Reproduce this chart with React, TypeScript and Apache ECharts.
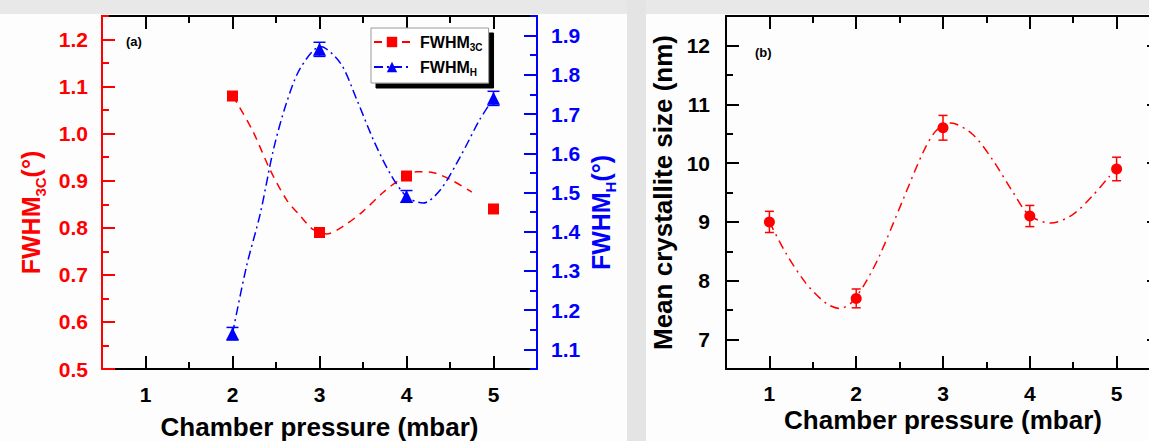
import { useEffect, useRef } from 'react';
import * as echarts from 'echarts';

// ---------- data ----------
const pressureA = [2, 3, 4, 5];
const fwhm3C = [1.08, 0.79, 0.91, 0.84];
const fwhm3CErr = [0.008, 0.006, 0.008, 0.006];
const fwhmH = [1.14, 1.865, 1.49, 1.74];
const fwhmHErr = [0.016, 0.018, 0.015, 0.018];

// fitted guide curves
const fit3CX = [2.0, 2.05, 2.24, 2.43, 2.62, 2.78, 2.93, 3.08, 3.27, 3.5, 3.73, 3.93, 4.12, 4.31, 4.54, 4.75];
const fit3CY = [1.08, 1.066, 1.003, 0.924, 0.86, 0.825, 0.796, 0.787, 0.803, 0.835, 0.875, 0.903, 0.919, 0.917, 0.899, 0.876];
const fitHX = [2.0, 2.16, 2.32, 2.47, 2.62, 2.78, 3.01, 3.24, 3.43, 3.62, 3.81, 4.0, 4.19, 4.39, 4.62, 4.84, 5.0];
const fitHY = [1.14, 1.311, 1.447, 1.609, 1.728, 1.817, 1.872, 1.83, 1.736, 1.634, 1.549, 1.49, 1.473, 1.507, 1.592, 1.685, 1.74];

const pressureB = [1, 2, 3, 4, 5];
const crystalSize = [9.0, 7.7, 10.6, 9.1, 9.9];
const crystalErr = [0.18, 0.16, 0.21, 0.18, 0.2];
const fitBX = [1.0, 1.19, 1.42, 1.65, 1.81, 1.94, 2.1, 2.27, 2.54, 2.77, 2.92, 3.09, 3.34, 3.57, 3.8, 3.99, 4.24, 4.49, 4.72, 4.92];
const fitBY = [9.0, 8.47, 7.96, 7.62, 7.53, 7.62, 7.95, 8.43, 9.38, 10.18, 10.55, 10.68, 10.49, 10.06, 9.52, 9.12, 8.98, 9.12, 9.44, 9.78];

const legendNames = ['FWHM3C', 'FWHMH'];
const panelLabels = ['(a)', '(b)'];
const xTitle = 'Chamber pressure (mbar)';
const yTitleB = 'Mean crystallite size (nm)';

const RED = '#ff0000';
const BLUE = '#0000ff';
const BLACK = '#000000';
const FONT = '"Liberation Sans", Arial, Helvetica, sans-serif';

function xAxisSet(gridIndex: number, labelMargin: number, nameGap: number) {
  const tickStyle = { color: BLACK, width: 2 };
  const base: any = {
    type: 'value', gridIndex, min: 0.5, max: 5.5,
    splitLine: { show: false }, z: 0,
  };
  return [
    {
      ...base, position: 'bottom', splitNumber: 5,
      axisLine: { show: true, onZero: false, lineStyle: { color: BLACK, width: 2 } },
      axisTick: { show: true, inside: true, length: 13, lineStyle: tickStyle },
      axisLabel: {
        show: true, margin: labelMargin, showMinLabel: false, showMaxLabel: false,
        color: BLACK, fontSize: 21, fontWeight: 'bold', fontFamily: FONT,
      },
      name: xTitle, nameLocation: 'middle', nameGap, nameMoveOverlap: false,
      nameTextStyle: { color: BLACK, fontSize: 26, lineHeight: 26, fontWeight: 'bold', fontFamily: FONT },
    },
    {
      ...base, position: 'bottom', interval: 0.5,
      axisLine: { show: false, onZero: false },
      axisTick: { show: true, inside: true, length: 7, lineStyle: tickStyle },
      axisLabel: { show: false },
    },
    {
      ...base, position: 'top', splitNumber: 5,
      axisLine: { show: true, onZero: false, lineStyle: { color: BLACK, width: 2 } },
      axisTick: { show: true, inside: true, length: 13, lineStyle: tickStyle },
      axisLabel: { show: false },
    },
    {
      ...base, position: 'top', interval: 0.5,
      axisLine: { show: false, onZero: false },
      axisTick: { show: true, inside: true, length: 7, lineStyle: tickStyle },
      axisLabel: { show: false },
    },
  ];
}

function yPair(
  gridIndex: number, position: string, min: number, max: number, color: string,
  major: any, minorInterval: number, label: any, nameOpts: any,
) {
  const tickStyle = { color, width: 2 };
  const base: any = { type: 'value', gridIndex, position, min, max, splitLine: { show: false }, z: 1 };
  return [
    {
      ...base, ...major,
      axisLine: { show: true, onZero: false, lineStyle: { color, width: 2 } },
      axisTick: { show: true, inside: true, length: 13, lineStyle: tickStyle },
      axisLabel: label
        ? {
            show: true, showMinLabel: label.showMin, showMaxLabel: false, margin: label.margin,
            color, fontSize: 21, fontWeight: 'bold', fontFamily: FONT, formatter: label.formatter,
          }
        : { show: false },
      ...nameOpts,
    },
    {
      ...base, interval: minorInterval,
      axisLine: { show: false, onZero: false },
      axisTick: { show: true, inside: true, length: 7, lineStyle: tickStyle },
      axisLabel: { show: false },
    },
  ];
}

function errorBars(color: string, hw: number) {
  return (params: any, api: any) => {
    const x = api.value(0);
    const top = api.coord([x, api.value(2)]);
    const bot = api.coord([x, api.value(1)]);
    const style = { stroke: color, lineWidth: 1.5 };
    return {
      type: 'group',
      children: [
        { type: 'line', shape: { x1: top[0], y1: top[1], x2: bot[0], y2: bot[1] }, style },
        { type: 'line', shape: { x1: top[0] - hw, y1: top[1], x2: top[0] + hw, y2: top[1] }, style },
        { type: 'line', shape: { x1: bot[0] - hw, y1: bot[1], x2: bot[0] + hw, y2: bot[1] }, style },
      ],
    };
  };
}

export default function App() {
  const ref = useRef<HTMLDivElement>(null);
  useEffect(() => {
    document.body.style.margin = '0';
    if (!ref.current) return;
    const chart = echarts.init(ref.current, undefined, { renderer: 'svg' });

    const ptsA3C = pressureA.map((p, i) => [p, fwhm3C[i]]);
    const ptsAH = pressureA.map((p, i) => [p, fwhmH[i]]);
    const ptsB = pressureB.map((p, i) => [p, crystalSize[i]]);

    const option: any = {
      animation: false,
      backgroundColor: '#fdfdfd',
      tooltip: { show: false },
      grid: [
        { left: 102, top: 16, width: 435, height: 353, outerBoundsMode: 'none', containLabel: false },
        { left: 726, top: 16, width: 434, height: 353, outerBoundsMode: 'none', containLabel: false },
      ],
      xAxis: [...xAxisSet(0, 15, 45), ...xAxisSet(1, 14, 38)],
      yAxis: [
        ...yPair(0, 'left', 0.5, 1.25, RED, { interval: 0.1 }, 0.05,
          { margin: 14, showMin: true, formatter: (v: number) => v.toFixed(1) },
          {
            name: '{a|FWHM}{b|3C}{a|(°)}', nameLocation: 'middle', nameGap: 54, nameRotate: 90,
            nameMoveOverlap: false,
            nameTextStyle: {
              color: RED, padding: [0, 40, 0, 0],
              rich: {
                a: { fontSize: 25, fontWeight: 'bold', fontFamily: FONT, color: RED },
                b: { fontSize: 15, fontWeight: 'bold', fontFamily: FONT, color: RED, padding: [20, 0, 0, 0] },
              },
            },
          }),
        ...yPair(0, 'right', 1.05, 1.95, BLUE, { splitNumber: 9 }, 0.05,
          { margin: 14, showMin: false, formatter: (v: number) => v.toFixed(1) },
          {
            name: '{a|FWHM}{b|H}{a|(°)}', nameLocation: 'middle', nameGap: 46, nameRotate: 90,
            nameMoveOverlap: false,
            nameTextStyle: {
              color: BLUE, padding: [0, 40, 0, 0],
              rich: {
                a: { fontSize: 25, fontWeight: 'bold', fontFamily: FONT, color: BLUE },
                b: { fontSize: 15, fontWeight: 'bold', fontFamily: FONT, color: BLUE, padding: [20, 0, 0, 0] },
              },
            },
          }),
        ...yPair(1, 'left', 6.5, 12.5, BLACK, { splitNumber: 6 }, 0.5,
          { margin: 16, showMin: false, formatter: (v: number) => String(v) },
          {
            name: yTitleB, nameLocation: 'middle', nameGap: 50, nameRotate: 90,
            nameMoveOverlap: false,
            nameTextStyle: { color: BLACK, fontSize: 26, fontWeight: 'bold', fontFamily: FONT },
          }),
        ...yPair(1, 'right', 6.5, 12.5, BLACK, { splitNumber: 6 }, 0.5, null, {}),
      ],
      legend: {
        data: legendNames,
        orient: 'vertical', left: 371, top: 28,
        itemWidth: 36, itemHeight: 13, itemGap: 7,
        padding: [6, 6, 6, 2],
        backgroundColor: '#ffffff', borderColor: '#999999', borderWidth: 1,
        shadowColor: '#000000', shadowOffsetX: 5, shadowOffsetY: 5, shadowBlur: 0.01,
        selectedMode: false,
        formatter: (n: string) => (n === 'FWHM3C' ? '{m|FWHM}{s|3C}' : '{m|FWHM}{s|H}'),
        textStyle: {
          rich: {
            m: { fontSize: 16, fontWeight: 'bold', fontFamily: FONT, color: BLACK, padding: [0, 0, 0, 5] },
            s: { fontSize: 10, fontWeight: 'bold', fontFamily: FONT, color: BLACK, padding: [10, 0, 0, 0] },
          },
        },
      },
      graphic: [
        { type: 'rect', z: -100, shape: { x: 0, y: 0, width: 1149, height: 14 }, style: { fill: '#e8e8e8' } },
        { type: 'rect', z: -100, shape: { x: 627, y: 0, width: 19, height: 441 }, style: { fill: '#e4e4e4' } },
        { type: 'text', left: 126, top: 35, style: { text: panelLabels[0], fontSize: 13, fontWeight: 'bold', fontFamily: FONT, fill: BLACK } },
        { type: 'text', left: 755, top: 46, style: { text: panelLabels[1], fontSize: 13, fontWeight: 'bold', fontFamily: FONT, fill: BLACK } },
      ],
      series: [
        {
          name: 'FWHM3C', type: 'line', xAxisIndex: 0, yAxisIndex: 0,
          data: fit3CX.map((x, i) => [x, fit3CY[i]]),
          smooth: 0.3, symbol: 'rect', symbolSize: 11, showSymbol: false, z: 3,
          lineStyle: { color: RED, width: 1.5, type: [8, 6] }, itemStyle: { color: RED },
        },
        {
          name: 'FWHMH', type: 'line', xAxisIndex: 0, yAxisIndex: 2,
          data: fitHX.map((x, i) => [x, fitHY[i]]),
          smooth: 0.3, symbol: 'triangle', symbolSize: 12, showSymbol: false, z: 3,
          lineStyle: { color: BLUE, width: 1.5, type: [9, 4, 2, 4] }, itemStyle: { color: BLUE },
        },
        {
          type: 'custom', xAxisIndex: 0, yAxisIndex: 0, z: 4,
          data: pressureA.map((p, i) => [p, fwhm3C[i] - fwhm3CErr[i], fwhm3C[i] + fwhm3CErr[i]]),
          encode: { x: 0, y: [1, 2] }, renderItem: errorBars(RED, 5),
        },
        {
          type: 'custom', xAxisIndex: 0, yAxisIndex: 2, z: 4,
          data: pressureA.map((p, i) => [p, fwhmH[i] - fwhmHErr[i], fwhmH[i] + fwhmHErr[i]]),
          encode: { x: 0, y: [1, 2] }, renderItem: errorBars(BLUE, 6),
        },
        {
          type: 'scatter', xAxisIndex: 0, yAxisIndex: 0, data: ptsA3C, z: 5,
          symbol: 'rect', symbolSize: 11, itemStyle: { color: RED, opacity: 1 },
        },
        {
          type: 'scatter', xAxisIndex: 0, yAxisIndex: 2, data: ptsAH, z: 5,
          symbol: 'triangle', symbolSize: 13, itemStyle: { color: BLUE, opacity: 1 },
        },
        {
          type: 'line', xAxisIndex: 4, yAxisIndex: 4,
          data: fitBX.map((x, i) => [x, fitBY[i]]),
          smooth: 0.3, symbol: 'none', showSymbol: false, z: 3,
          lineStyle: { color: RED, width: 1.5, type: [9, 5, 2, 5] },
        },
        {
          type: 'custom', xAxisIndex: 4, yAxisIndex: 4, z: 4,
          data: pressureB.map((p, i) => [p, crystalSize[i] - crystalErr[i], crystalSize[i] + crystalErr[i]]),
          encode: { x: 0, y: [1, 2] }, renderItem: errorBars(RED, 4.5),
        },
        {
          type: 'scatter', xAxisIndex: 4, yAxisIndex: 4, data: ptsB, z: 5,
          symbol: 'circle', symbolSize: 11, itemStyle: { color: RED, opacity: 1 },
        },
      ],
    };
    chart.setOption(option);
    return () => chart.dispose();
  }, []);

  return <div ref={ref} style={{ width: 1149, height: 441 }} />;
}
